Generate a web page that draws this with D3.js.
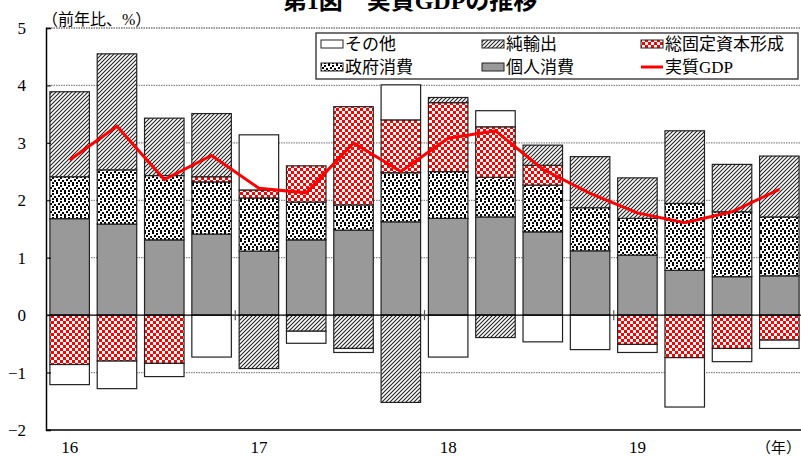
<!DOCTYPE html>
<html>
<head>
<meta charset="utf-8">
<script src="https://cdn.jsdelivr.net/npm/d3@7"></script>
<style>
  body { margin: 0; background: #fff; }
  svg { font-family: "Liberation Serif", "Noto Sans CJK JP", serif; }
</style>
</head>
<body>
<div class="chart"></div>
<script>
// quarters 2016Q1 .. 2019Q4
const quarters = ['16Q1','16Q2','16Q3','16Q4','17Q1','17Q2','17Q3','17Q4',
                  '18Q1','18Q2','18Q3','18Q4','19Q1','19Q2','19Q3','19Q4'];
const personal = [1.68, 1.585, 1.31, 1.41, 1.115, 1.31, 1.48, 1.625, 1.685, 1.71, 1.45, 1.12, 1.045, 0.78, 0.67, 0.685];
const government = [0.73, 0.945, 1.12, 0.91, 0.925, 0.66, 0.44, 0.855, 0.815, 0.69, 0.815, 0.75, 0.64, 1.165, 1.13, 1.025];
const capital = [-0.86, -0.80, -0.84, 0.09, 0.14, 0.63, 1.71, 0.92, 1.20, 0.88, 0.345, 0, -0.51, -0.74, -0.58, -0.435];
const netExports = [1.48, 2.02, 1.0, 1.10, -0.93, -0.28, -0.58, -1.52, 0.09, -0.39, 0.35, 0.89, 0.705, 1.265, 0.825, 1.06];
const other = [-0.35, -0.48, -0.23, -0.73, 0.96, -0.21, -0.07, 0.61, -0.73, 0.28, -0.465, -0.60, -0.14, -0.86, -0.23, -0.145];
const realGDP = [2.70, 3.29, 2.36, 2.78, 2.21, 2.13, 3.00, 2.50, 3.08, 3.21, 2.54, 2.12, 1.78, 1.61, 1.80, 2.19];
const yTicks = [-2, -1, 0, 1, 2, 3, 4, 5];
const yearLabels = [{q: '16Q1', t: '16'}, {q: '17Q1', t: '17'}, {q: '18Q1', t: '18'}, {q: '19Q1', t: '19'}];
const yearBreaks = ['17Q1', '18Q1', '19Q1'];

const width = 801, height = 459;
const plotLeft = 46, plotRight = 803, plotTop = 28, plotBottom = 430;

const svg = d3.select('.chart').append('svg')
  .attr('width', width).attr('height', height);

// patterns
const defs = svg.append('defs');
const hatch = defs.append('pattern').attr('id', 'hatch').attr('patternUnits', 'userSpaceOnUse')
  .attr('width', 4).attr('height', 4);
hatch.append('rect').attr('width', 4).attr('height', 4).attr('fill', '#fff');
hatch.append('path').attr('d', 'M-1,1 l2,-2 M0,4 l4,-4 M3,5 l2,-2')
  .attr('stroke', '#222').attr('stroke-width', 1.1);

const dots = defs.append('pattern').attr('id', 'dots').attr('patternUnits', 'userSpaceOnUse')
  .attr('width', 8).attr('height', 8);
dots.append('rect').attr('width', 8).attr('height', 8).attr('fill', '#fff');
[[0,0],[4,1],[2,3],[6,4],[0,6],[4,6]].forEach(p => {
  dots.append('rect').attr('x', p[0]).attr('y', p[1]).attr('width', 2).attr('height', 2).attr('fill', '#000');
});

const check = defs.append('pattern').attr('id', 'check').attr('patternUnits', 'userSpaceOnUse')
  .attr('width', 6).attr('height', 6);
check.append('rect').attr('width', 6).attr('height', 6).attr('fill', '#fff');
check.append('rect').attr('width', 3).attr('height', 3).attr('fill', '#ff0000');
check.append('rect').attr('x', 3).attr('y', 3).attr('width', 3).attr('height', 3).attr('fill', '#ff0000');

const keys = ['personal', 'government', 'capital', 'netExports', 'other'];
const fills = {personal: '#999999', government: 'url(#dots)', capital: 'url(#check)',
               netExports: 'url(#hatch)', other: '#ffffff'};

const data = quarters.map((q, i) => ({
  q: q, personal: personal[i], government: government[i], capital: capital[i],
  netExports: netExports[i], other: other[i]
}));

const x = d3.scaleBand().domain(quarters).range([plotLeft, plotRight]).paddingInner(0.165).paddingOuter(0.0825);
const y = d3.scaleLinear().domain([-2, 5]).range([plotBottom, plotTop]);

// title (cut off at top, as in the source)
svg.append('text').attr('x', 410).attr('y', 9).attr('text-anchor', 'middle')
  .attr('font-size', 24).attr('font-weight', 'bold')
  .text('第1図　実質GDPの推移');

// grid
svg.append('g').selectAll('line').data(yTicks.filter(d => d !== 0 && d !== -2))
  .enter().append('line')
  .attr('x1', plotLeft).attr('x2', plotRight)
  .attr('y1', d => y(d)).attr('y2', d => y(d))
  .attr('stroke', d => d === 5 ? '#333' : '#888')
  .attr('stroke-width', 1.2)
  .attr('stroke-dasharray', '1.5,1');

// bars
const series = d3.stack().keys(keys).offset(d3.stackOffsetDiverging)(data);
svg.append('g').selectAll('g').data(series).enter().append('g')
  .attr('fill', d => fills[d.key])
  .selectAll('rect').data(d => d).enter().append('rect')
  .attr('x', d => x(d.data.q))
  .attr('width', x.bandwidth())
  .attr('y', d => y(Math.max(d[0], d[1])))
  .attr('height', d => Math.abs(y(d[0]) - y(d[1])))
  .attr('stroke', '#222')
  .attr('stroke-width', 1.2)
  .filter(d => Math.abs(d[1] - d[0]) < 1e-9).remove();

// zero line, bottom and left axis
svg.append('line').attr('x1', plotLeft).attr('x2', plotRight).attr('y1', y(0)).attr('y2', y(0))
  .attr('stroke', '#000').attr('stroke-width', 1.2);
svg.append('line').attr('x1', plotLeft).attr('x2', plotRight).attr('y1', y(-2)).attr('y2', y(-2))
  .attr('stroke', '#000').attr('stroke-width', 1.5);

const yAxis = svg.append('g').attr('transform', `translate(${plotLeft},0)`)
  .call(d3.axisLeft(y).tickValues(yTicks).tickSize(-5).tickPadding(20).tickFormat(d3.format('d')));
yAxis.select('.domain').attr('stroke', '#000').attr('stroke-width', 1.5);
yAxis.selectAll('text').attr('font-size', 17).attr('fill', '#000')
  .attr('font-family', '"Liberation Serif", serif');

// year break ticks on zero line
svg.append('g').selectAll('line').data(yearBreaks).enter().append('line')
  .attr('x1', d => x(d) - x.step() * x.paddingInner() / 2)
  .attr('x2', d => x(d) - x.step() * x.paddingInner() / 2)
  .attr('y1', y(0) - 5).attr('y2', y(0) + 5)
  .attr('stroke', '#555').attr('stroke-width', 1.2);

// year labels
svg.append('g').selectAll('text').data(yearLabels).enter().append('text')
  .attr('x', d => x(d.q) + x.bandwidth() / 2)
  .attr('y', 453)
  .attr('text-anchor', 'middle')
  .attr('font-size', 17)
  .text(d => d.t);

svg.append('text').attr('x', 801).attr('y', 453).attr('text-anchor', 'end')
  .attr('font-size', 15).text('（年）');
svg.append('text').attr('x', 42).attr('y', 25)
  .attr('font-size', 16).text('（前年比、%）');

// GDP line
svg.append('path').datum(realGDP)
  .attr('fill', 'none').attr('stroke', '#ff0000').attr('stroke-width', 3)
  .attr('d', d3.line().x((d, i) => x(quarters[i]) + x.bandwidth() / 2).y(d => y(d)));

// legend
const legend = svg.append('g');
legend.append('rect').attr('x', 316).attr('y', 33).attr('width', 482).attr('height', 46)
  .attr('fill', '#fff').attr('stroke', '#444').attr('stroke-width', 1.5);
const legendItems = [
  {t: 'その他', f: fills.other, cx: 321, cy: 44},
  {t: '純輸出', f: fills.netExports, cx: 482, cy: 44},
  {t: '総固定資本形成', f: fills.capital, cx: 641, cy: 44},
  {t: '政府消費', f: fills.government, cx: 321, cy: 67},
  {t: '個人消費', f: fills.personal, cx: 482, cy: 67},
  {t: '実質GDP', f: null, cx: 641, cy: 67}
];
legendItems.forEach(d => {
  if (d.f) {
    legend.append('rect').attr('x', d.cx).attr('y', d.cy - 4).attr('width', 22).attr('height', 8)
      .attr('fill', d.f).attr('stroke', '#222').attr('stroke-width', 1);
  } else {
    legend.append('line').attr('x1', d.cx).attr('x2', d.cx + 22).attr('y1', d.cy).attr('y2', d.cy)
      .attr('stroke', '#ff0000').attr('stroke-width', 3);
  }
  legend.append('text').attr('x', d.cx + 24).attr('y', d.cy + 6)
    .attr('font-size', 17).text(d.t);
});
</script>
</body>
</html>
